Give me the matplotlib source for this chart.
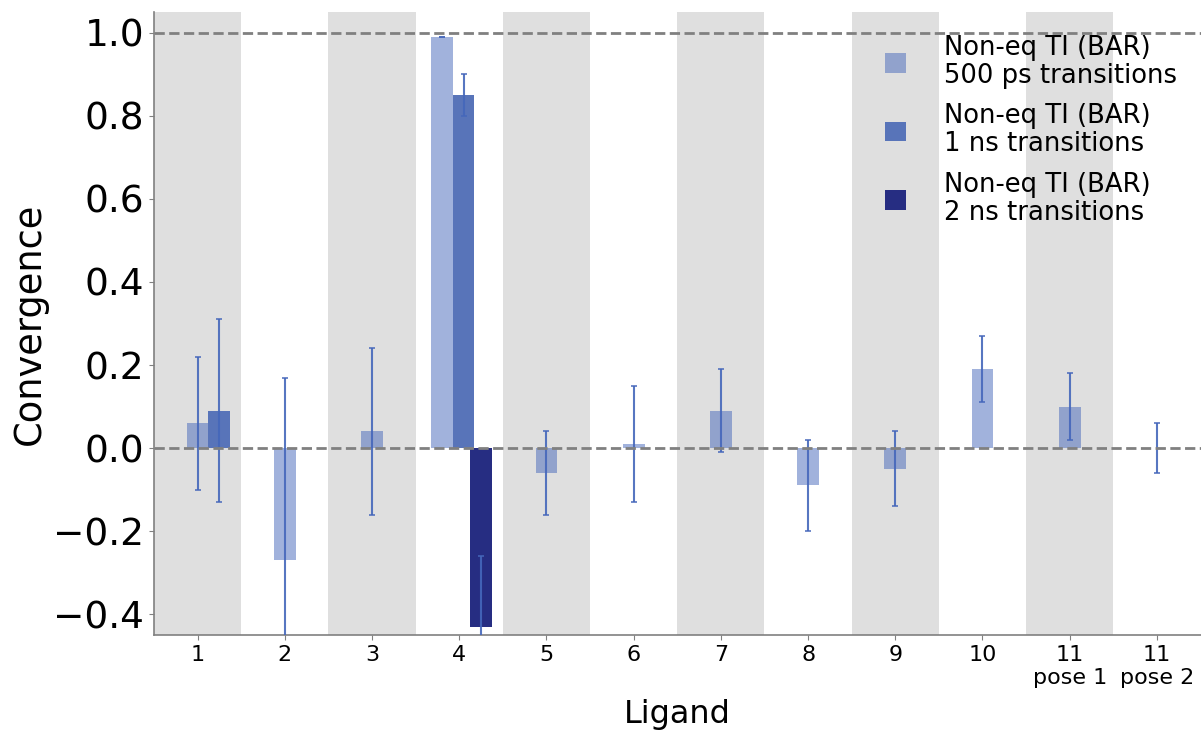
import numpy as np
import matplotlib
matplotlib.use("Agg")
import matplotlib.pyplot as plt
from matplotlib.patches import Patch

# ---- data ----
tick_labels = ["1", "2", "3", "4", "5", "6", "7", "8", "9", "10",
               "11\npose 1", "11\npose 2"]
series_names = ["Non-eq TI (BAR)\n500 ps transitions",
                "Non-eq TI (BAR)\n1 ns transitions",
                "Non-eq TI (BAR)\n2 ns transitions"]

s500_vals = [0.06, -0.27, 0.04, 0.99, -0.06, 0.01, 0.09, -0.09, -0.05, 0.19, 0.10, 0.00]
s500_errs = [0.16, 0.44, 0.20, 0.00, 0.10, 0.14, 0.10, 0.11, 0.09, 0.08, 0.08, 0.06]
s500_shift = [0.0, 0.0, 0.0, -0.2, 0.0, 0.0, 0.0, 0.0, 0.0, 0.0, 0.0, 0.0]

s1ns_idx = [0, 3]
s1ns_vals = [0.09, 0.85]
s1ns_errs = [0.22, 0.05]
s1ns_shift = [0.25, 0.05]

s2ns_idx = [3]
s2ns_vals = [-0.43]
s2ns_errs = [0.17]
s2ns_shift = [0.25]

# ---- style ----
c500 = "#4466bb"
c1ns = "#5874b9"
c2ns = "#262d82"
ecol = "#4567bb"
width = 0.25

fig = plt.figure(figsize=(12.01, 7.31), dpi=100)
ax = fig.add_axes([0.1282, 0.1313, 0.8714, 0.8523])

pos = np.arange(1, len(tick_labels) + 1)

# shaded bands on odd categories
for i, p in enumerate(pos):
    if i % 2 == 0:
        ax.axvspan(p - 0.5, p + 0.5, color="#dfdfdf", zorder=0, lw=0)

ekw = dict(ecolor=ecol, elinewidth=1.5, capsize=2.5, capthick=1.2)

x500 = pos + np.array(s500_shift)
ax.bar(x500, s500_vals, width, color=c500, alpha=0.5, zorder=2)
ax.errorbar(x500, s500_vals, yerr=s500_errs, fmt="none", zorder=3, alpha=0.9, **ekw)

x1 = pos[s1ns_idx] + np.array(s1ns_shift)
ax.bar(x1, s1ns_vals, width, color=c1ns, zorder=2)
ax.errorbar(x1, s1ns_vals, yerr=s1ns_errs, fmt="none", zorder=3, alpha=0.9, **ekw)

x2 = pos[s2ns_idx] + np.array(s2ns_shift)
ax.bar(x2, s2ns_vals, width, color=c2ns, zorder=2)
ax.errorbar(x2, s2ns_vals, yerr=s2ns_errs, fmt="none", zorder=3, alpha=0.9, **ekw)

ax.axhline(0.0, color="#808080", lw=2, ls="--", zorder=4)
ax.axhline(1.0, color="#808080", lw=2, ls="--", zorder=4)

ax.set_xlim(0.5, len(tick_labels) + 0.5)
ax.set_ylim(-0.45, 1.05)
ax.set_xticks(pos)
ax.set_xticklabels(tick_labels, fontsize=16)
ax.set_yticks([-0.4, -0.2, 0.0, 0.2, 0.4, 0.6, 0.8, 1.0])
ax.tick_params(axis="y", labelsize=27, color="#808080")
ax.tick_params(axis="x", color="#808080")

ax.set_xlabel("Ligand", fontsize=23, labelpad=8)
ax.set_ylabel("Convergence", fontsize=26.5)

for s in ["top", "right"]:
    ax.spines[s].set_visible(False)
for s in ["left", "bottom"]:
    ax.spines[s].set_color("#808080")
    ax.spines[s].set_linewidth(1.2)

handles = [Patch(facecolor=c500, alpha=0.5),
           Patch(facecolor=c1ns),
           Patch(facecolor=c2ns)]
leg = ax.legend(handles, series_names, loc="upper right", frameon=False,
                fontsize=18.6, handlelength=0.8, handleheight=0.8,
                handletextpad=1.5, labelspacing=0.55)
for t in leg.get_texts():
    t.set_linespacing(1.1)

fig.savefig("out.png", dpi=100)
